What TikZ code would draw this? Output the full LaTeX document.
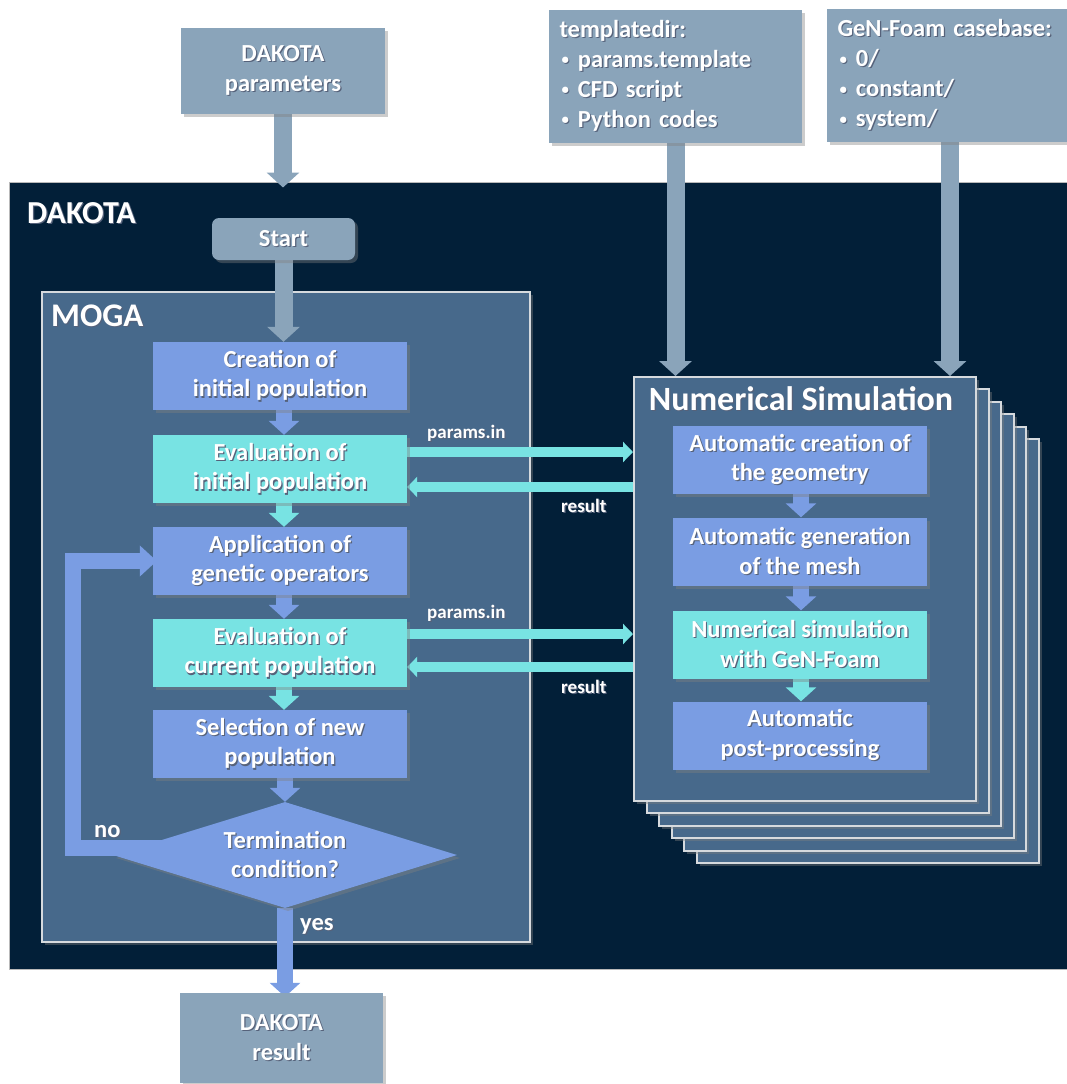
\documentclass[tikz,border=0pt]{standalone}
\usepackage{fontspec}
\setmainfont{Carlito}
\usetikzlibrary{arrows.meta,shapes.geometric,shadows,calc}
\definecolor{navy}{HTML}{021F38}
\definecolor{framec}{HTML}{47698B}
\definecolor{gbox}{HTML}{8AA4BA}
\definecolor{bbox}{HTML}{7A9DE3}
\definecolor{cbox}{HTML}{78E3E3}
\definecolor{edgec}{HTML}{D6DADE}
\definecolor{shc}{HTML}{56627A}
\newcommand\shd[1]{\leavevmode\rlap{\kern1.2pt\lower1.2pt\hbox{\textcolor{shc}{#1}}}#1}
\newcommand\bul{\hspace{2pt}{\fontsize{15}{15}\selectfont\raisebox{2.5pt}{•}}\hspace{9pt}}
\pgfdeclarelayer{frames}
\pgfdeclarelayer{arrows}
\pgfsetlayers{frames,arrows,main}
\begin{document}
\begin{tikzpicture}[x=1pt,y=-1pt,
  txt/.style={text=white,font=\fontsize{24.5}{29.5}\selectfont\bfseries,align=center},
  shad/.style={drop shadow={shadow xshift=3pt,shadow yshift=-3pt,opacity=.4}},
  box/.style={txt,inner sep=0pt,minimum width=254pt,minimum height=68pt,shad},
  bluebox/.style={box,fill=bbox},
  cyanbox/.style={box,fill=cbox},
  graybox/.style={txt,fill=gbox,inner sep=0pt,shad},
  listbox/.style={graybox,align=left,font=\fontsize{24.5}{30}\selectfont\bfseries,inner xsep=10.5pt,minimum height=133pt},
  nsframe/.style={fill=framec,draw=edgec,line width=2pt,minimum width=342pt,minimum height=424pt,inner sep=0pt,shad},
  title/.style={text=white,inner sep=0pt,anchor=base west},
  lbl/.style={text=white,inner sep=0pt,anchor=base west,font=\fontsize{19}{23}\selectfont\bfseries},
  garrow/.style={draw=gbox,line width=18pt,-{Triangle[width=32pt,length=15pt]}},
  barrow/.style={draw=bbox,line width=16pt,-{Triangle[width=30pt,length=14pt]}},
  carrow/.style={draw=cbox,line width=16pt,-{Triangle[width=30pt,length=14pt]}},
  cthin/.style={draw=cbox,line width=10pt,-{Triangle[width=20pt,length=10pt]}},
  looparrow/.style={draw=bbox,line width=16pt,line join=miter,-{Triangle[width=30pt,length=17pt]}}
]
\useasboundingbox (0,0) rectangle (1067,1084);

\begin{pgfonlayer}{frames}
\node[draw=gray!55,fill=navy,line width=1pt,minimum width=1058pt,minimum height=787pt,inner sep=0pt] (dakota) at (538,575.5) {};
\node[fill=framec,draw=edgec,line width=2pt,minimum width=488pt,minimum height=650pt,inner sep=0pt,shad] (moga) at (286,617) {};
\foreach \i in {5,4,3,2,1}{
  \node[nsframe] (ns\i) at (805+12.5*\i,589+12.4*\i) {};
}
\node[nsframe] (ns0) at (805,589) {};
\end{pgfonlayer}

% titles
\node[title,font=\fontsize{32}{38}\selectfont\bfseries] (tdak) at (27,223) {\shd{DAKOTA}};
\node[title,font=\fontsize{33}{40}\selectfont\bfseries] (tmoga) at (51,326) {\shd{MOGA}};
\node[text=white,inner sep=0pt,anchor=base,font=\fontsize{34}{40}\selectfont\bfseries] (tns) at (801,410) {\shd{Numerical Simulation}};

% input / output boxes
\node[graybox,minimum width=204pt,minimum height=86pt] (dpar) at (283,71) {\shd{DAKOTA}\\\shd{parameters}};
\node[graybox,rounded corners=7pt,minimum width=143pt,minimum height=42pt] (start) at (283.5,239) {\shd{Start}};
\node[graybox,minimum width=203pt,minimum height=90pt] (dres) at (281.5,1038) {\shd{DAKOTA}\\\shd{result}};
\node[listbox,text width=232pt] (tdir) at (675.5,76) {\shd{templatedir:}\\\shd{\bul params.template}\\\shd{\bul CFD script}\\\shd{\bul Python codes}};
\node[listbox,text width=219pt] (gfb) at (947,75.5) {\shd{GeN-Foam casebase:}\\\shd{\bul 0/}\\\shd{\bul constant/}\\\shd{\bul system/}};

% MOGA flow
\node[bluebox] (cre) at (280,376) {\shd{Creation of}\\\shd{initial population}};
\node[cyanbox] (ev1) at (280,469) {\shd{Evaluation of}\\\shd{initial population}};
\node[bluebox] (app) at (280,561) {\shd{Application of}\\\shd{genetic operators}};
\node[cyanbox] (ev2) at (280,653) {\shd{Evaluation of}\\\shd{current population}};
\node[bluebox] (sel) at (280,744) {\shd{Selection of new}\\\shd{population}};
\node[diamond,txt,fill=bbox,inner sep=0pt,minimum width=344pt,minimum height=106pt,aspect=3.245,shad] (dia) at (285,855) {\shd{Termination}\\\shd{condition?}};

% Numerical simulation flow
\node[bluebox] (geo) at (800,460) {\shd{Automatic creation of}\\\shd{the geometry}};
\node[bluebox] (mesh) at (800,551.5) {\shd{Automatic generation}\\\shd{of the mesh}};
\node[cyanbox] (sim) at (800,644.5) {\shd{Numerical simulation}\\\shd{with GeN-Foam}};
\node[bluebox] (post) at (800,735.5) {\shd{Automatic}\\\shd{post-processing}};

% labels
\node[lbl] (pin1) at (427,438) {\shd{params.in}};
\node[lbl] (pin2) at (427,618) {\shd{params.in}};
\node[lbl] (res1) at (561,512) {\shd{result}};
\node[lbl] (res2) at (561,693) {\shd{result}};
\node[lbl,font=\fontsize{24.5}{29}\selectfont\bfseries] (lno) at (94,837) {\shd{no}};
\node[lbl,font=\fontsize{24.5}{29}\selectfont\bfseries] (lyes) at (300,930) {\shd{yes}};

\begin{pgfonlayer}{arrows}
\coordinate (dtip) at ($(dpar.south |- dakota.north)+(0,6)$);
\draw[garrow] (dpar.south) -- (dtip);
\draw[garrow] (start.south) -- (start.south |- cre.north);
\draw[garrow] (tdir.south) -- (tdir.south |- ns0.north);
\coordinate (gfs) at ($(gfb.south)+(3,0)$);
\draw[garrow] (gfs) -- (gfs |- ns0.north);

\draw[barrow] ([xshift=4pt]cre.south) -- ([xshift=4pt]ev1.north);
\draw[carrow] ([xshift=4pt]ev1.south) -- ([xshift=4pt]app.north);
\draw[barrow] ([xshift=4pt]app.south) -- ([xshift=4pt]ev2.north);
\draw[carrow] ([xshift=4pt]ev2.south) -- ([xshift=4pt]sel.north);
\draw[barrow] ([xshift=5pt]sel.south) -- (dia.north);
\coordinate (ytip) at ($(dia.south |- dres.north)+(0,4)$);
\draw[barrow] (dia.south) -- (ytip);
\draw[looparrow] ($(dia.west)+(57,-7)$) -- ($(dia.west)+(-40,-7)$) |- ([xshift=4pt]app.west);

\draw[barrow] ([xshift=1pt]geo.south) -- ([xshift=1pt]mesh.north);
\draw[barrow] ([xshift=1pt]mesh.south) -- ([xshift=1pt]sim.north);
\draw[carrow] ([xshift=1pt]sim.south) -- ([xshift=1pt]post.north);

\coordinate (a1) at ($(ev1.east)+(0,-17)$);
\coordinate (b1) at ($(ev1.east)+(0,18)$);
\coordinate (a2) at ($(ev2.east)+(0,-19)$);
\coordinate (b2) at ($(ev2.east)+(0,14)$);
\draw[cthin] (a1) -- (a1 -| ns0.west);
\draw[cthin] (b1 -| ns0.west) -- (b1);
\draw[cthin] (a2) -- (a2 -| ns0.west);
\draw[cthin] (b2 -| ns0.west) -- (b2);
\end{pgfonlayer}
\end{tikzpicture}
\end{document}
